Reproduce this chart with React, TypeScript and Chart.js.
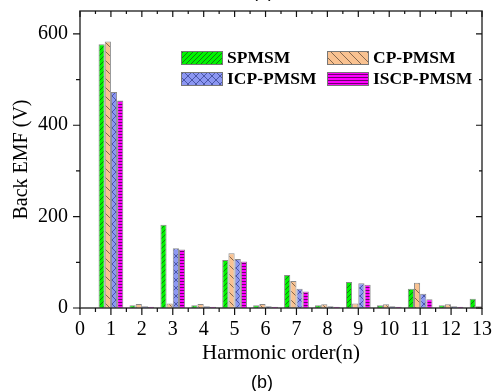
import React, { useEffect, useRef } from "react";
import { Chart, registerables } from "chart.js";

Chart.register(...registerables);

// Harmonic orders on the horizontal axis
const harmonics = [1, 2, 3, 4, 5, 6, 7, 8, 9, 10, 11, 12, 13];
// Back EMF amplitude (V) per harmonic order
const spmsm = [577, 6, 182, 6, 105, 6, 72, 6, 57, 6, 42, 6, 20];
const cpPmsm = [583, 9, 10, 9, 120, 9, 59, 8, 10, 8, 55, 8, 4];
const icpPmsm = [473, 4, 131, 4, 107, 4, 42, 4, 54, 4, 31, 4, 3];
const iscpPmsm = [454, 3, 128, 3, 102, 3, 36, 3, 51, 3, 19, 3, 2];
const seriesNames = ["SPMSM", "CP-PMSM", "ICP-PMSM", "ISCP-PMSM"];
const xTickValues = [0, 1, 2, 3, 4, 5, 6, 7, 8, 9, 10, 11, 12, 13];
const yTickValues = [0, 200, 400, 600];
const yMinorValues = [100, 300, 500];

const SERIF = "'Liberation Serif', 'Times New Roman', serif";
const SANS = "'Liberation Sans', Arial, sans-serif";

type Kind = "fwd" | "back" | "cross" | "horiz";

function makePattern(bg: string, fg: string, kind: Kind, size: number): CanvasPattern | string {
  const c = document.createElement("canvas");
  c.width = size;
  c.height = size;
  const g = c.getContext("2d");
  if (!g) return bg;
  g.fillStyle = bg;
  g.fillRect(0, 0, size, size);
  g.strokeStyle = fg;
  g.lineWidth = 1;
  const fwd = () => {
    g.beginPath();
    g.moveTo(-1, size + 1);
    g.lineTo(size + 1, -1);
    g.moveTo(-1, 1);
    g.lineTo(1, -1);
    g.moveTo(size - 1, size + 1);
    g.lineTo(size + 1, size - 1);
    g.stroke();
  };
  const back = () => {
    g.beginPath();
    g.moveTo(-1, -1);
    g.lineTo(size + 1, size + 1);
    g.moveTo(size - 1, -1);
    g.lineTo(size + 1, 1);
    g.moveTo(-1, size - 1);
    g.lineTo(1, size + 1);
    g.stroke();
  };
  if (kind === "fwd") fwd();
  if (kind === "back") back();
  if (kind === "cross") {
    fwd();
    back();
  }
  if (kind === "horiz") {
    g.beginPath();
    g.moveTo(0, size - 0.5);
    g.lineTo(size, size - 0.5);
    g.stroke();
  }
  const p = g.createPattern(c, "repeat");
  return p || bg;
}

export default function App() {
  const canvasRef = useRef<HTMLCanvasElement | null>(null);

  useEffect(() => {
    const canvas = canvasRef.current;
    if (!canvas) return;

    const fills = [
      makePattern("#00f400", "#117a11", "fwd", 5),
      makePattern("#f9c291", "#85664c", "back", 9),
      makePattern("#8c97f2", "#4a56a8", "cross", 8),
      makePattern("#ff00ff", "#6e006e", "horiz", 3),
    ];
    const values = [spmsm, cpPmsm, icpPmsm, iscpPmsm];

    const frame = {
      id: "frame",
      afterDraw(chart: any) {
        const { ctx, chartArea } = chart;
        const { left, right, top, bottom } = chartArea;
        const xs = chart.scales.x;
        const ys = chart.scales.y;
        ctx.save();

        // axis box
        ctx.strokeStyle = "#3a3a3a";
        ctx.lineWidth = 1.5;
        ctx.strokeRect(left, top, right - left, bottom - top);

        ctx.strokeStyle = "#111";
        ctx.lineWidth = 1.2;
        ctx.beginPath();
        // bottom (outward) and top (inward) ticks
        for (let v = 0; v <= 13; v += 0.5) {
          const px = xs.getPixelForValue(v);
          const major = Number.isInteger(v);
          ctx.moveTo(px, bottom);
          ctx.lineTo(px, bottom + (major ? 7 : 4));
          ctx.moveTo(px, top);
          ctx.lineTo(px, top + (major ? 6 : 3));
        }
        // left (outward) and right (inward) ticks
        for (const v of yTickValues) {
          const py = ys.getPixelForValue(v);
          ctx.moveTo(left, py);
          ctx.lineTo(left - 7, py);
          ctx.moveTo(right, py);
          ctx.lineTo(right - 6, py);
        }
        for (const v of yMinorValues) {
          const py = ys.getPixelForValue(v);
          ctx.moveTo(left, py);
          ctx.lineTo(left - 4, py);
          ctx.moveTo(right, py);
          ctx.lineTo(right - 3, py);
        }
        ctx.stroke();

        // legend, two columns inside the plot
        const cols = [181, 327];
        const rows = [51, 72];
        ctx.font = `bold 17.5px ${SERIF}`;
        ctx.textBaseline = "middle";
        ctx.textAlign = "left";
        seriesNames.forEach((name, i) => {
          const cx = cols[i % 2];
          const cy = rows[Math.floor(i / 2)];
          ctx.fillStyle = fills[i] as any;
          ctx.fillRect(cx, cy, 42, 14);
          ctx.strokeStyle = "#777";
          ctx.lineWidth = 1;
          ctx.strokeRect(cx + 0.5, cy + 0.5, 41, 13);
          ctx.fillStyle = "#000";
          ctx.fillText(name, cx + 46, cy + 7.5);
        });

        // panel captions
        ctx.font = `18px ${SANS}`;
        ctx.textAlign = "center";
        ctx.textBaseline = "alphabetic";
        ctx.fillStyle = "#000";
        ctx.fillText("(a)", 263, -3);
        ctx.fillText("(b)", 262, 388);
        ctx.restore();
      },
    };

    const chart = new Chart(canvas, {
      type: "bar",
      data: {
        datasets: seriesNames.map((name, i) => ({
          label: name,
          data: harmonics.map((h, j) => ({ x: h, y: values[i][j] })),
          backgroundColor: fills[i] as any,
          borderColor: "#8a8a8a",
          borderWidth: 1,
          categoryPercentage: 0.8,
          barPercentage: 1.0,
        })),
      },
      options: {
        responsive: false,
        animation: false,
        devicePixelRatio: 1,
        layout: { padding: 0 },
        plugins: {
          legend: { display: false },
          tooltip: { enabled: false },
        },
        scales: {
          x: {
            type: "linear",
            min: 0,
            max: 13,
            offset: false,
            grid: { display: false, drawTicks: false },
            border: { display: false },
            afterBuildTicks: (s: any) => {
              s.ticks = xTickValues.map((v) => ({ value: v }));
            },
            afterFit: (s: any) => {
              s.height = 83;
              s.paddingLeft = 0;
              s.paddingRight = 11;
            },
            ticks: {
              autoSkip: false,
              maxRotation: 0,
              padding: 10,
              color: "#000",
              font: { family: SERIF, size: 20 },
            },
            title: {
              display: true,
              text: "Harmonic order(n)",
              color: "#000",
              font: { family: SERIF, size: 21 },
              padding: { top: 0, bottom: 25 },
            },
          },
          y: {
            type: "linear",
            min: 0,
            max: 650,
            grid: { display: false, drawTicks: false },
            border: { display: false },
            afterBuildTicks: (s: any) => {
              s.ticks = yTickValues.map((v) => ({ value: v }));
            },
            afterFit: (s: any) => {
              s.width = 80;
              s.paddingTop = 11;
              s.paddingBottom = 0;
            },
            ticks: {
              padding: 12,
              color: "#000",
              font: { family: SERIF, size: 20 },
            },
            title: {
              display: true,
              text: "Back EMF (V)",
              color: "#000",
              font: { family: SERIF, size: 20 },
              padding: { top: 10, bottom: 0 },
            },
          },
        },
      },
      plugins: [frame],
    } as any);

    return () => chart.destroy();
  }, []);

  return (
    <div style={{ position: "fixed", left: 0, top: 0, width: 493, height: 391, background: "#fff" }}>
      <canvas ref={canvasRef} width={493} height={391} style={{ display: "block" }} />
    </div>
  );
}
